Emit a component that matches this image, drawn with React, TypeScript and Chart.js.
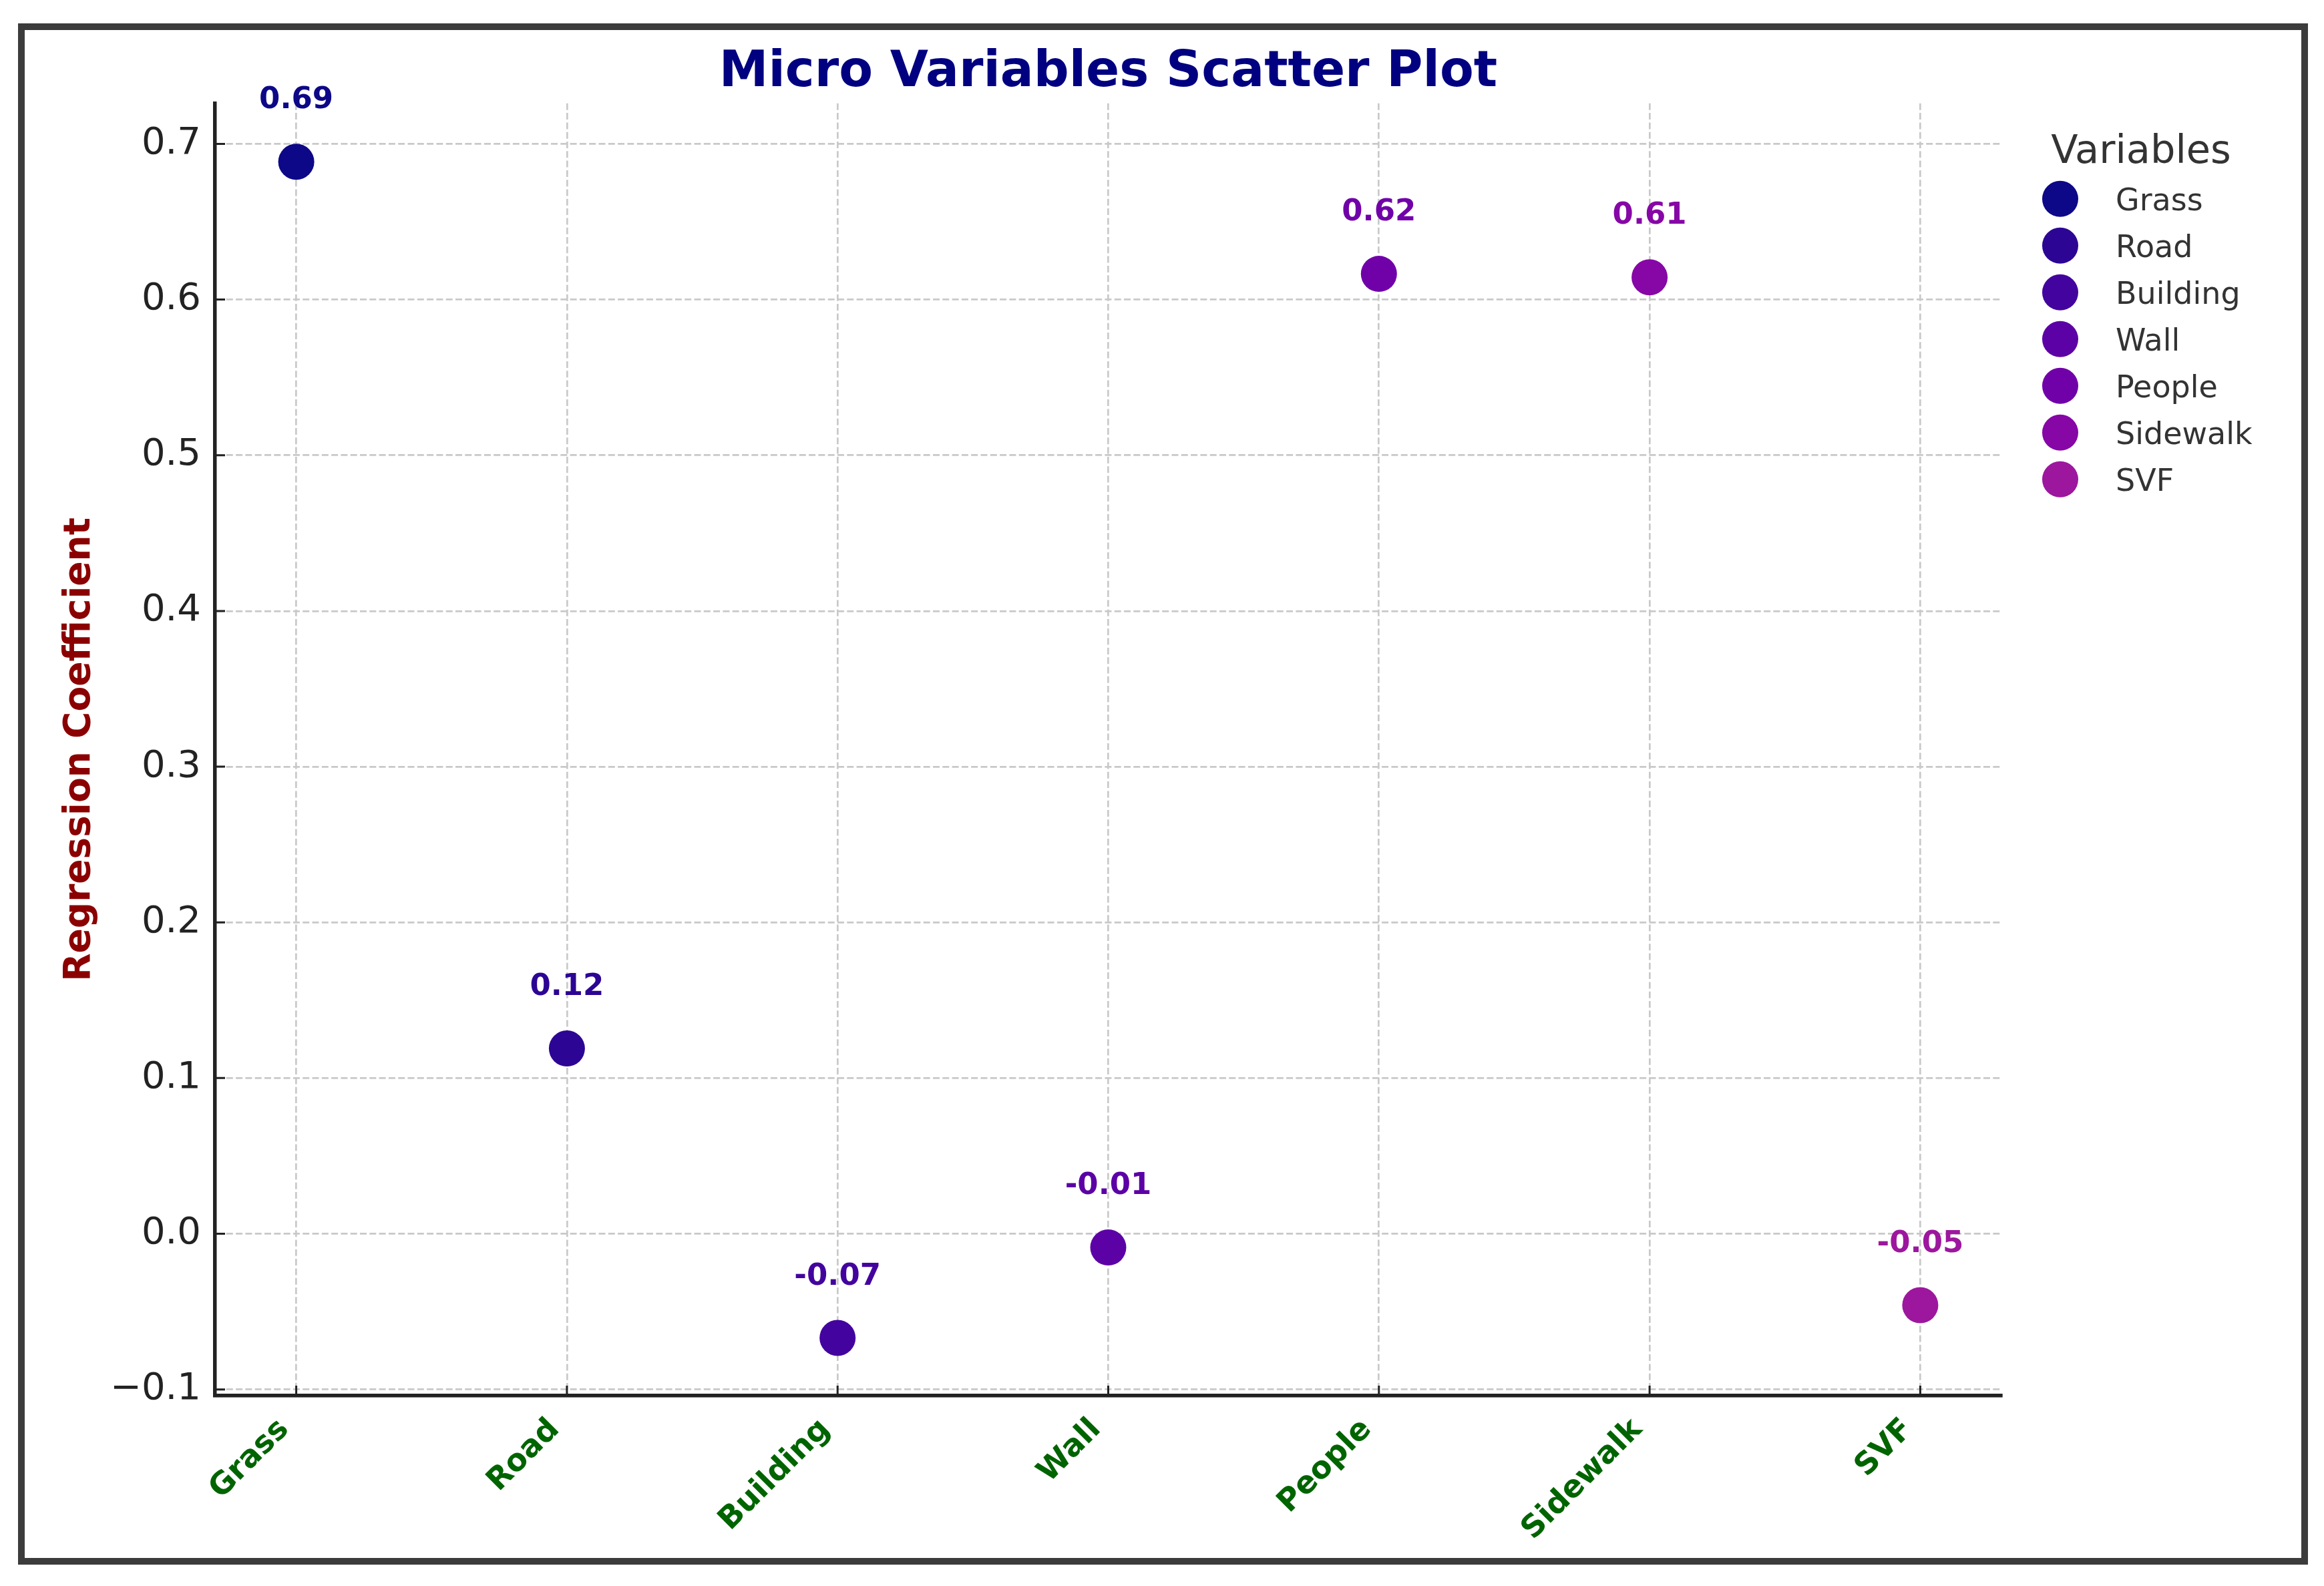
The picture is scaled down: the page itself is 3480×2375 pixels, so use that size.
import React, { useEffect, useRef } from 'react';
import { Chart, registerables } from 'chart.js';

Chart.register(...registerables);

// ---- data ----
const categories = ['Grass', 'Road', 'Building', 'Wall', 'People', 'Sidewalk', 'SVF'];
const coefficients = [0.6885, 0.119, -0.0669, -0.0088, 0.6165, 0.6143, -0.0459];
const pointColors = ['#0d0887', '#2c0594', '#43039e', '#5b01a5', '#7000a8', '#8606a6', '#9c179e'];
const yTickValues = [-0.1, 0, 0.1, 0.2, 0.3, 0.4, 0.5, 0.6, 0.7];
const xTickValues = [0, 1, 2, 3, 4, 5, 6];
const Y_MIN = -0.104;
const Y_MAX = 0.726;
const X_MIN = -0.3;
const X_MAX = 6.3;
const LABEL_OFFSET = 0.03;

const FONT = "'DejaVu Sans', sans-serif";
const GRID = '#c9c9c9';
const AXIS = '#222222';

const valueLabels = {
  id: 'valueLabels',
  afterDatasetsDraw(chart: any) {
    const { ctx } = chart;
    const ys = chart.scales.y;
    ctx.save();
    ctx.font = `bold 45px ${FONT}`;
    ctx.textAlign = 'center';
    ctx.textBaseline = 'alphabetic';
    chart.data.datasets.forEach((ds: any, i: number) => {
      const meta = chart.getDatasetMeta(i);
      const el = meta.data[0];
      const v = ds.data[0].y;
      ctx.fillStyle = ds.backgroundColor;
      ctx.fillText(v.toFixed(2), el.x, ys.getPixelForValue(v + LABEL_OFFSET) - 10);
    });
    ctx.restore();
  },
};

const innerTicks = {
  id: 'innerTicks',
  afterDraw(chart: any) {
    const { ctx, chartArea: a } = chart;
    const xs = chart.scales.x;
    const ys = chart.scales.y;
    ctx.save();
    ctx.strokeStyle = AXIS;
    ctx.lineWidth = 3;
    ctx.beginPath();
    xs.ticks.forEach((t: any) => {
      const px = xs.getPixelForValue(t.value);
      ctx.moveTo(px, a.bottom);
      ctx.lineTo(px, a.bottom - 15);
    });
    ys.ticks.forEach((t: any) => {
      const py = ys.getPixelForValue(t.value);
      ctx.moveTo(a.left, py);
      ctx.lineTo(a.left + 15, py);
    });
    ctx.stroke();
    ctx.restore();
  },
};

const sideLegend = {
  id: 'sideLegend',
  afterDraw(chart: any) {
    const { ctx, chartArea: a } = chart;
    const left = a.right;
    ctx.save();
    ctx.fillStyle = '#333333';
    ctx.font = `59px ${FONT}`;
    ctx.textAlign = 'center';
    ctx.textBaseline = 'alphabetic';
    ctx.fillText('Variables', left + 209, a.top + 89);
    ctx.font = `46px ${FONT}`;
    ctx.textAlign = 'left';
    chart.data.datasets.forEach((ds: any, i: number) => {
      const cy = a.top + 143 + i * 70;
      ctx.fillStyle = ds.backgroundColor;
      ctx.beginPath();
      ctx.arc(left + 88, cy, 27, 0, Math.PI * 2);
      ctx.fill();
      ctx.fillStyle = '#333333';
      ctx.fillText(ds.label, left + 171, cy + 17);
    });
    ctx.restore();
  },
};

const frame = {
  id: 'frame',
  afterDraw(chart: any) {
    const { ctx } = chart;
    ctx.save();
    ctx.strokeStyle = '#3c3c3c';
    ctx.lineWidth = 10;
    ctx.strokeRect(32, 40, 3419, 2298);
    ctx.restore();
  },
};

export default function App() {
  const ref = useRef<HTMLCanvasElement | null>(null);

  useEffect(() => {
    if (!ref.current) return;
    const datasets = categories.map((name, i) => ({
      label: name,
      data: [{ x: xTickValues[i], y: coefficients[i] }],
      backgroundColor: pointColors[i],
      borderColor: pointColors[i],
      borderWidth: 0,
      pointRadius: 27,
      pointHoverRadius: 27,
    }));
    const chart = new Chart(ref.current, {
      type: 'scatter',
      data: { datasets },
      options: {
        animation: false,
        responsive: false,
        maintainAspectRatio: false,
        devicePixelRatio: 1,
        layout: { padding: { left: 0, right: 483, top: 0, bottom: 0 } },
        plugins: {
          legend: { display: false },
          tooltip: { enabled: false },
          title: {
            display: true,
            text: 'Micro Variables Scatter Plot',
            color: '#000080',
            fullSize: false,
            font: { size: 74, weight: 'bold', family: FONT },
            padding: { top: 65, bottom: 1 },
          },
        },
        scales: {
          x: {
            type: 'linear',
            min: X_MIN,
            max: X_MAX,
            afterBuildTicks: (s: any) => {
              s.ticks = xTickValues.map((v) => ({ value: v }));
            },
            afterFit: (s: any) => {
              s.height = 285;
            },
            grid: { color: GRID, lineWidth: 2.7, drawTicks: false, tickLength: 0 },
            border: { display: true, color: AXIS, width: 5.5, dash: [10, 4.3] },
            ticks: {
              autoSkip: false,
              minRotation: 45,
              maxRotation: 45,
              padding: 24,
              labelOffset: -18,
              color: '#006400',
              font: { size: 46, weight: 'bold', family: FONT },
              callback: (v: any) => categories[Math.round(Number(v))] ?? '',
            },
          },
          y: {
            type: 'linear',
            min: Y_MIN,
            max: Y_MAX,
            afterBuildTicks: (s: any) => {
              s.ticks = yTickValues.map((v) => ({ value: v }));
            },
            afterFit: (s: any) => {
              s.width = 322;
            },
            grid: { color: GRID, lineWidth: 2.7, drawTicks: false, tickLength: 0 },
            border: { display: true, color: AXIS, width: 5.5, dash: [10, 4.3] },
            ticks: {
              padding: 21,
              color: AXIS,
              font: { size: 56, family: FONT },
              callback: (v: any) => {
                const n = Number(v);
                return n < 0 ? '\u2212' + Math.abs(n).toFixed(1) : n.toFixed(1);
              },
            },
            title: {
              display: true,
              text: 'Regression Coefficient',
              color: '#8b0000',
              font: { size: 55, weight: 'bold', family: FONT },
              padding: { top: 87, bottom: 0 },
            },
          },
        },
      },
      plugins: [valueLabels, innerTicks, sideLegend, frame],
    } as any);
    return () => chart.destroy();
  }, []);

  return (
    <div style={{ position: 'absolute', left: 0, top: 0, width: 3480, height: 2375, background: '#ffffff' }}>
      <canvas ref={ref} width={3480} height={2375} style={{ display: 'block', width: 3480, height: 2375 }} />
    </div>
  );
}
